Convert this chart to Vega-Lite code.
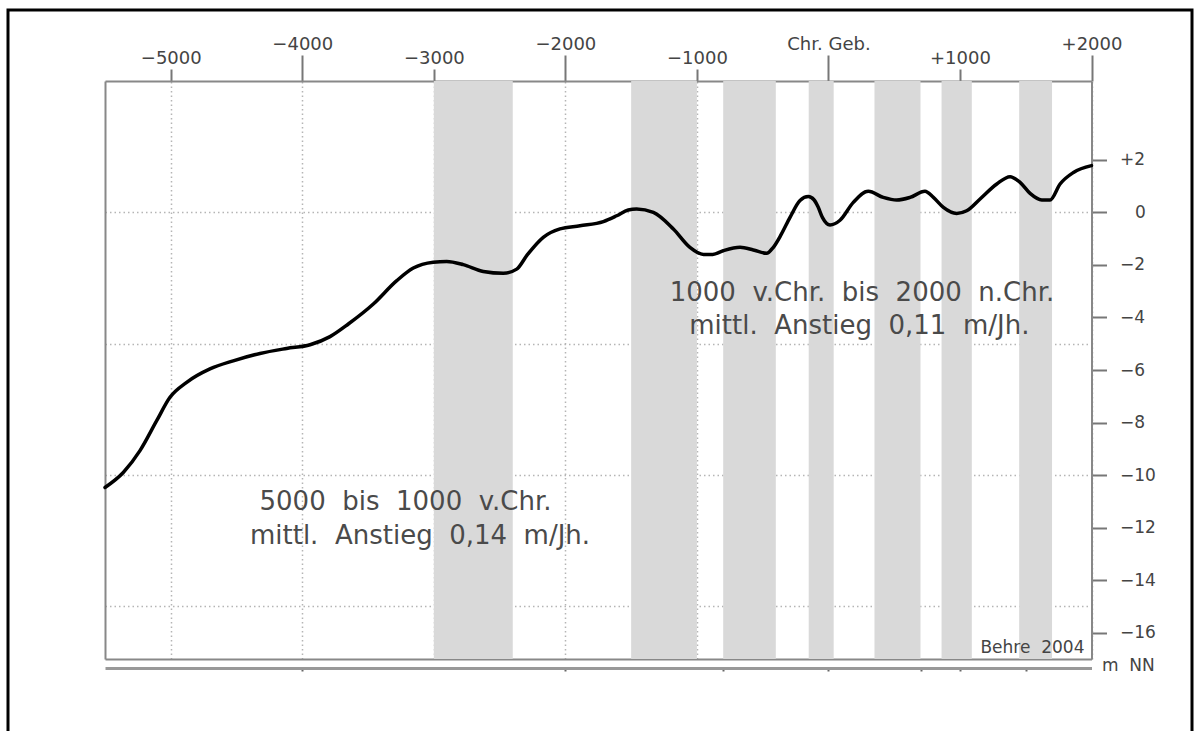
{
  "$schema": "https://vega.github.io/schema/vega-lite/v6.json",
  "autosize": {"type": "none"},
  "padding": {"left": 8, "top": 10, "right": 8, "bottom": 0},
  "width": 1184,
  "height": 740,
  "background": "white",
  "config": {
    "view": {"stroke": "black", "strokeWidth": 3},
    "axis": {"labelFont": "DejaVu Sans", "titleFont": "DejaVu Sans", "zindex": 1}
  },
  "datasets": {
    "bands": [
      {"start": -3000, "end": -2400},
      {"start": -1500, "end": -1000},
      {"start": -800, "end": -400},
      {"start": -150, "end": 40},
      {"start": 350, "end": 700},
      {"start": 860, "end": 1090},
      {"start": 1450, "end": 1700}
    ],
    "curve": [
      {"year": -5500, "level": -10.47},
      {"year": -5361, "level": -9.9},
      {"year": -5234, "level": -9.07},
      {"year": -5107, "level": -7.93},
      {"year": -5006, "level": -7.04},
      {"year": -4879, "level": -6.47},
      {"year": -4702, "level": -5.96},
      {"year": -4525, "level": -5.65},
      {"year": -4322, "level": -5.37},
      {"year": -4119, "level": -5.18},
      {"year": -3941, "level": -5.04},
      {"year": -3789, "level": -4.73},
      {"year": -3650, "level": -4.25},
      {"year": -3460, "level": -3.49},
      {"year": -3282, "level": -2.6},
      {"year": -3156, "level": -2.12},
      {"year": -3004, "level": -1.9},
      {"year": -2902, "level": -1.87},
      {"year": -2776, "level": -1.99},
      {"year": -2624, "level": -2.25},
      {"year": -2472, "level": -2.32},
      {"year": -2370, "level": -2.16},
      {"year": -2290, "level": -1.62},
      {"year": -2168, "level": -0.95},
      {"year": -2041, "level": -0.63},
      {"year": -1889, "level": -0.51},
      {"year": -1711, "level": -0.35},
      {"year": -1610, "level": -0.13},
      {"year": -1522, "level": 0.09},
      {"year": -1458, "level": 0.13},
      {"year": -1331, "level": 0.0},
      {"year": -1179, "level": -0.63},
      {"year": -1053, "level": -1.33},
      {"year": -950, "level": -1.6},
      {"year": -880, "level": -1.6},
      {"year": -800, "level": -1.46},
      {"year": -672, "level": -1.33},
      {"year": -571, "level": -1.43},
      {"year": -470, "level": -1.56},
      {"year": -419, "level": -1.33},
      {"year": -360, "level": -0.85},
      {"year": -292, "level": -0.19},
      {"year": -216, "level": 0.45},
      {"year": -153, "level": 0.6},
      {"year": -110, "level": 0.48},
      {"year": -80, "level": 0.22},
      {"year": -45, "level": -0.2},
      {"year": 12, "level": -0.48},
      {"year": 88, "level": -0.3},
      {"year": 189, "level": 0.38},
      {"year": 303, "level": 0.8},
      {"year": 417, "level": 0.57},
      {"year": 519, "level": 0.47},
      {"year": 620, "level": 0.57},
      {"year": 734, "level": 0.8},
      {"year": 798, "level": 0.57},
      {"year": 874, "level": 0.19},
      {"year": 975, "level": -0.04},
      {"year": 1051, "level": 0.06},
      {"year": 1153, "level": 0.51},
      {"year": 1280, "level": 1.08},
      {"year": 1381, "level": 1.36},
      {"year": 1457, "level": 1.14},
      {"year": 1533, "level": 0.72},
      {"year": 1622, "level": 0.47},
      {"year": 1685, "level": 0.47},
      {"year": 1761, "level": 1.08},
      {"year": 1863, "level": 1.52},
      {"year": 2000, "level": 1.78}
    ],
    "notes": [
      {"year": 255, "level": -3.06, "label": "1000\u00a0 v.Chr.\u00a0 bis\u00a0 2000\u00a0 n.Chr."},
      {"year": 235, "level": -4.31, "label": "mittl.\u00a0 Anstieg\u00a0 0,11\u00a0 m/Jh."},
      {"year": -3215, "level": -11.01, "label": "5000\u00a0 bis\u00a0 1000\u00a0 v.Chr."},
      {"year": -3105, "level": -12.31, "label": "mittl.\u00a0 Anstieg\u00a0 0,14\u00a0 m/Jh."}
    ],
    "credit": [
      {"year": 2000, "level": -16.6, "label": "Behre\u00a0 2004"}
    ]
  },
  "resolve": {"axis": {"x": "independent", "y": "independent"}},
  "layer": [
    {
      "data": {"name": "bands"},
      "mark": {"type": "rect", "color": "#d9d9d9"},
      "encoding": {
        "x": {
          "field": "start", "type": "quantitative",
          "scale": {"domain": [-5500, 2000], "range": [97, 1083.5], "nice": false, "zero": false},
          "axis": {
            "orient": "top", "offset": -71, "title": null,
            "values": [-5000, -4000, -3000, -2000, -1000, 0, 1000, 2000],
            "labelExpr": "datum.value == 0 ? 'Chr. Geb.' : (datum.value > 0 ? '+' + datum.value : '\u2212' + abs(datum.value))",
            "labelFontSize": 18, "labelColor": "#444", "labelFlush": false, "labelOverlap": false,
            "labelPadding": 2,
            "tickSize": {"condition": {"test": "abs(datum.value) % 2000 == 0", "value": 26}, "value": 12},
            "tickColor": "#777", "tickWidth": 2,
            "domainColor": "#888", "domainWidth": 2,
            "grid": true, "gridColor": "#b5b5b5", "gridDash": [1.5, 3], "gridWidth": 1.5
          }
        },
        "x2": {"field": "end"},
        "y": {
          "datum": 5, "type": "quantitative",
          "scale": {"domain": [-17, 5], "range": [649, 71], "nice": false, "zero": false},
          "axis": {
            "orient": "right", "offset": -100.5,
            "values": [2, 0, -2, -4, -6, -8, -10, -12, -14, -16],
            "labelExpr": "datum.value > 0 ? '+' + datum.value : (datum.value < 0 ? '\u2212' + abs(datum.value) : '0')",
            "labelAlign": "left", "labelBaseline": "middle",
            "labelPadding": {"condition": {"test": "datum.value == 0", "value": 28}, "value": 13},
            "labelFontSize": 17, "labelColor": "#444", "labelFlush": false, "labelOverlap": false,
            "tickSize": 15, "tickColor": "#777", "tickWidth": 2,
            "domainColor": "#888", "domainWidth": 2,
            "grid": false,
            "title": "m\u00a0 NN", "titleAngle": 0, "titleAlign": "left", "titleBaseline": "middle",
            "titleX": 10, "titleY": 655, "titleFontSize": 17, "titleFontWeight": "normal", "titleColor": "#444"
          }
        },
        "y2": {"datum": -17}
      }
    },
    {
      "data": {"name": "curve"},
      "mark": {"type": "line", "color": "black", "strokeWidth": 3.5, "interpolate": "monotone", "strokeCap": "round"},
      "encoding": {
        "x": {
          "field": "year", "type": "quantitative",
          "scale": {"domain": [-5500, 2000], "range": [97, 1083.5], "nice": false, "zero": false},
          "axis": {
            "orient": "bottom", "offset": -91, "title": null,
            "ticks": false, "labels": false, "grid": false,
            "domainColor": "#888", "domainWidth": 2
          }
        },
        "y": {
          "field": "level", "type": "quantitative",
          "scale": {"domain": [-17, 5], "range": [649, 71], "nice": false, "zero": false},
          "axis": {
            "orient": "left", "offset": -97, "title": null,
            "values": [0, -5, -10, -15],
            "ticks": false, "labels": false,
            "domainColor": "#888", "domainWidth": 2,
            "grid": true, "gridColor": "#b5b5b5", "gridDash": [1.5, 3], "gridWidth": 1.5
          }
        }
      }
    },
    {
      "data": {"name": "notes"},
      "mark": {"type": "text", "font": "DejaVu Sans", "fontSize": 26, "color": "#4a4a4a", "align": "center", "baseline": "middle"},
      "encoding": {
        "x": {
          "field": "year", "type": "quantitative",
          "scale": {"domain": [-5500, 2000], "range": [97, 1083.5], "nice": false, "zero": false},
          "axis": {
            "orient": "bottom", "offset": -82, "title": null,
            "values": [-4000, -2000, -800, 0, 700, 1000, 1500],
            "labels": false, "grid": false,
            "tickSize": 3, "tickColor": "#666", "tickWidth": 2,
            "domainColor": "#999", "domainWidth": 3
          }
        },
        "y": {
          "field": "level", "type": "quantitative",
          "scale": {"domain": [-17, 5], "range": [649, 71], "nice": false, "zero": false},
          "axis": null
        },
        "text": {"field": "label"}
      }
    },
    {
      "data": {"name": "credit"},
      "mark": {"type": "text", "font": "DejaVu Sans", "fontSize": 17, "color": "#444", "align": "right", "baseline": "middle", "dx": -7},
      "encoding": {
        "x": {
          "field": "year", "type": "quantitative",
          "scale": {"domain": [-5500, 2000], "range": [97, 1083.5], "nice": false, "zero": false},
          "axis": null
        },
        "y": {
          "field": "level", "type": "quantitative",
          "scale": {"domain": [-17, 5], "range": [649, 71], "nice": false, "zero": false},
          "axis": null
        },
        "text": {"field": "label"}
      }
    }
  ]
}
